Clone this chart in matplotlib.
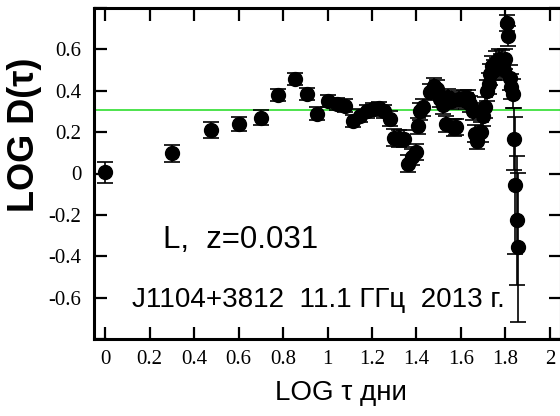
import numpy as np
import matplotlib
matplotlib.use("Agg")
import matplotlib.pyplot as plt

# structure function points: log tau (days), log D(tau), error
log_tau = [0.000, 0.301, 0.477, 0.602, 0.699, 0.778, 0.854, 0.908, 0.953, 1.000,
           1.041, 1.079, 1.114, 1.146, 1.176, 1.204, 1.230, 1.255, 1.279, 1.301,
           1.322, 1.342, 1.362, 1.380, 1.398, 1.407, 1.415, 1.431, 1.462, 1.477,
           1.491, 1.505, 1.519, 1.531, 1.544, 1.556, 1.568, 1.580, 1.591, 1.613,
           1.623, 1.633, 1.643, 1.653, 1.663, 1.672, 1.690, 1.699, 1.708, 1.716,
           1.724, 1.732, 1.740, 1.748, 1.756, 1.763, 1.771, 1.778, 1.785, 1.792,
           1.799, 1.806, 1.813, 1.820, 1.826, 1.833, 1.839, 1.845, 1.851, 1.857]
log_d = [0.005, 0.097, 0.210, 0.240, 0.270, 0.380, 0.458, 0.385, 0.290, 0.350,
         0.337, 0.328, 0.255, 0.280, 0.300, 0.310, 0.318, 0.300, 0.265, 0.173,
         0.170, 0.169, 0.048, 0.080, 0.105, 0.230, 0.300, 0.320, 0.395, 0.424,
         0.410, 0.360, 0.330, 0.240, 0.370, 0.350, 0.222, 0.225, 0.360, 0.366,
         0.350, 0.366, 0.337, 0.300, 0.193, 0.159, 0.200, 0.280, 0.320, 0.400,
         0.434, 0.480, 0.520, 0.500, 0.540, 0.510, 0.554, 0.530, 0.545, 0.500,
         0.554, 0.728, 0.665, 0.463, 0.420, 0.385, 0.169, -0.058, -0.227, -0.357]
err = [0.05, 0.04, 0.04, 0.035, 0.035, 0.03, 0.03, 0.03, 0.03, 0.03,
       0.03, 0.03, 0.03, 0.03, 0.03, 0.03, 0.03, 0.03, 0.035, 0.04,
       0.04, 0.04, 0.04, 0.04, 0.04, 0.04, 0.04, 0.04, 0.04, 0.04,
       0.04, 0.04, 0.04, 0.04, 0.04, 0.04, 0.04, 0.04, 0.04, 0.04,
       0.04, 0.04, 0.04, 0.04, 0.04, 0.04, 0.05, 0.05, 0.05, 0.05,
       0.05, 0.05, 0.05, 0.05, 0.05, 0.05, 0.05, 0.05, 0.05, 0.05,
       0.05, 0.04, 0.05, 0.06, 0.06, 0.07, 0.15, 0.33, 0.31, 0.36]

plateau = 0.305
x_ticks = [0, 0.2, 0.4, 0.6, 0.8, 1, 1.2, 1.4, 1.6, 1.8, 2]
x_labels = ["0", "0.2", "0.4", "0.6", "0.8", "1", "1.2", "1.4", "1.6", "1.8", "2"]
y_ticks = [-0.8, -0.6, -0.4, -0.2, 0, 0.2, 0.4, 0.6, 0.8]
y_labels = ["", "-0.6", "-0.4", "-0.2", "0", "0.2", "0.4", "0.6", ""]

fig = plt.figure(figsize=(5.6, 4.16), dpi=100)
ax = fig.add_axes([94 / 560, 1 - 339 / 416, (561 - 94) / 560, (339 - 8) / 416])

ax.axhline(plateau, color="#3fe03f", lw=1.3, zorder=1)
ax.errorbar(log_tau, log_d, yerr=err, fmt="o", color="black", ms=10,
            capsize=6, elinewidth=1.2, capthick=1.2, zorder=3)

ax.set_xlim(-0.05, 2.05)
ax.set_ylim(-0.8, 0.8)
ax.set_xticks(x_ticks)
ax.set_xticklabels(x_labels, family="Liberation Serif", fontsize=15)
ax.set_yticks(y_ticks)
ax.set_yticklabels(y_labels, family="Liberation Serif", fontsize=15)
ax.tick_params(direction="in", length=9, width=1.6, top=True, right=True)
ax.tick_params(axis="x", pad=8)
ax.tick_params(axis="y", pad=9)
for sp in ax.spines.values():
    sp.set_linewidth(2.2)

ax.text(0.26, -0.36, "L,  z=0.031", family="Liberation Sans", fontsize=22.5,
        ha="left", va="baseline")
ax.text(0.121, -0.646, "J1104+3812  11.1 ГГц  2013 г.", family="Liberation Sans",
        fontsize=20, ha="left", va="baseline")

fig.text(341 / 560, 1 - 393 / 416, "LOG τ дни", family="Liberation Sans",
         fontsize=20, ha="center", va="center")
fig.text(25 / 560, 1 - 135 / 416, "LOG D(τ)", family="Liberation Sans",
         fontsize=26, fontweight="bold", rotation=90, ha="center", va="center")

fig.savefig("out.png", dpi=100)
